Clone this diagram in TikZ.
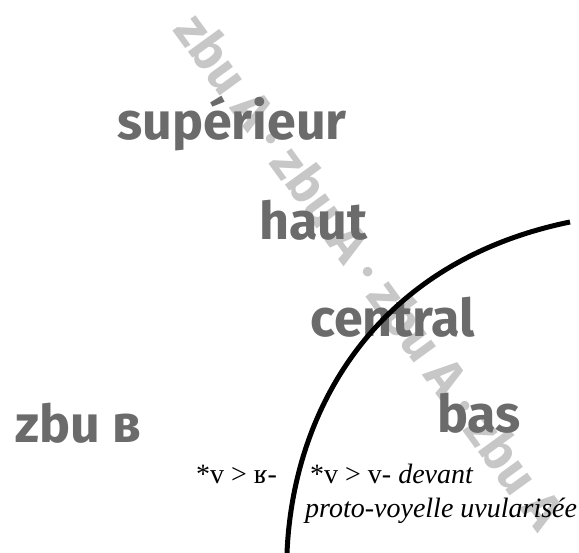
\documentclass[tikz,border=0pt]{standalone}
\usepackage{fontspec}
\usepackage{tikz}
\usetikzlibrary{positioning}
\newfontfamily\labelfont{Fira Sans}
\newfontfamily\notefont{Liberation Serif}

\begin{document}
\begin{tikzpicture}[
    x=1pt, y=-1pt,
    levelbox/.style={anchor=base west, inner sep=0pt, text=black!58, font=\labelfont\bfseries\fontsize{52}{60}\selectfont},
    markbox/.style={anchor=base west, inner sep=0pt, text=black!22, rotate=-54, font=\labelfont\bfseries\fontsize{52}{60}\selectfont},
    notebox/.style={anchor=base west, inner sep=0pt, font=\notefont\fontsize{28}{35}\selectfont},
    border/.style={line width=5pt}
]
\useasboundingbox (0,0) rectangle (579,553);

% Watermark
\node[markbox] (mark) at (172,30) {zbu A · zbu A · zbu A · zbu A};

% Levels
\node[levelbox] (sup) at (117,140) {supérieur};
\node[levelbox] (haut) at (259,240) {haut};
\node[levelbox] (central) at (310,337) {central};
\node[levelbox] (bas) at (437,433) {bas};
\node[levelbox] (zbu) at (15,443) {zbu в};

% Notes
\node[notebox] (left) at (196,484) {*v > ʁ-};
\node[notebox] (right) at (310,484) {*v > v- \textit{devant}};
\node[notebox] (rightb) at (305,518) {\textit{proto-voyelle uvularisée}};

% Boundary
\coordinate (low) at (287,553);
\coordinate (high) at (570,222);
\draw[border] (low) .. controls (293,410) and (375,262) .. (high);

\end{tikzpicture}
\end{document}
